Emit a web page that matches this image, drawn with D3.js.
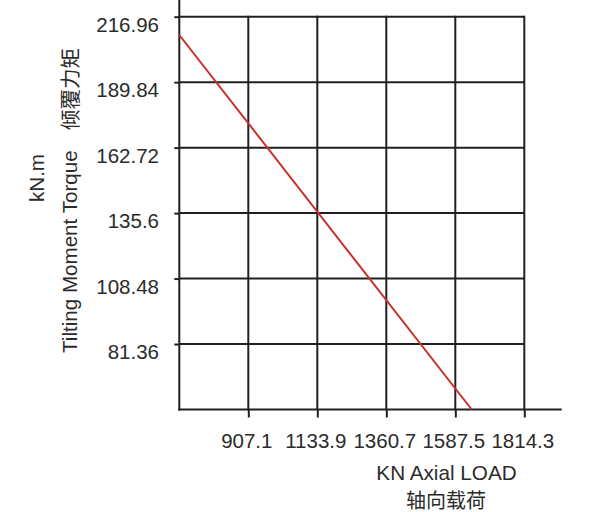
<!DOCTYPE html>
<html>
<head>
<meta charset="utf-8">
<script src="https://cdn.jsdelivr.net/npm/d3@7/dist/d3.min.js"></script>
<style>
  html, body { margin: 0; padding: 0; background: #fff; }
  svg { display: block; }
  text { font-family: "Liberation Sans", Arial, "Noto Sans CJK SC", sans-serif; fill: #2b2b2b; }
  .cjk { font-family: "Noto Sans CJK SC", "Liberation Sans", sans-serif; }
</style>
</head>
<body>
<svg id="chart" width="590" height="512"></svg>
<script>
// ---- data ----
const xTicks = [907.1, 1133.9, 1360.7, 1587.5, 1814.3];
const yTicks = [216.96, 189.84, 162.72, 135.6, 108.48, 81.36];
const lineLoad = [680.3, 1641.4];
const lineTorque = [209.38, 54.24];
const xTitle = "KN Axial LOAD";
const xTitleCn = "轴向载荷";
const yTitle = "Tilting Moment Torque";
const yTitleCn = "倾覆力矩";
const yUnit = "kN.m";

// ---- layout ----
const svg = d3.select("#chart");
const x = d3.scaleLinear().domain([680.3, 1814.3]).range([179.3, 524.3]);
const y = d3.scaleLinear().domain([54.24, 216.96]).range([409.5, 16.7]);
const ink = "#231f20";
const fs = 20.5;

// horizontal grid lines
svg.append("g").selectAll("line").data(yTicks).join("line")
  .attr("x1", x(680.3)).attr("x2", x(1814.3))
  .attr("y1", d => y(d)).attr("y2", d => y(d))
  .attr("stroke", ink).attr("stroke-width", 2);

// vertical grid lines
svg.append("g").selectAll("line").data(xTicks).join("line")
  .attr("x1", d => x(d)).attr("x2", d => x(d))
  .attr("y1", y(216.96) - 1).attr("y2", y(54.24))
  .attr("stroke", ink).attr("stroke-width", 2);

// x axis
const xAxis = svg.append("g")
  .attr("transform", `translate(0,${y(54.24)})`)
  .call(d3.axisBottom(x).tickValues(xTicks).tickSize(8).tickPadding(16).tickFormat(d => String(d)));
xAxis.select(".domain").remove();
xAxis.selectAll(".tick line").attr("stroke", ink).attr("stroke-width", 2);
xAxis.selectAll(".tick text").attr("font-size", fs).attr("font-family", "Liberation Sans, Arial, sans-serif")
  .attr("fill", "#2b2b2b").attr("dx", -2);
svg.append("line")
  .attr("x1", x(680.3) - 1).attr("x2", 561.7)
  .attr("y1", y(54.24)).attr("y2", y(54.24))
  .attr("stroke", ink).attr("stroke-width", 2);

// y axis
const yAxis = svg.append("g")
  .attr("transform", `translate(${x(680.3)},0)`)
  .call(d3.axisLeft(y).tickValues(yTicks).tickSize(5).tickPadding(15.3).tickFormat(d => String(d)));
yAxis.select(".domain").remove();
yAxis.selectAll(".tick line").attr("stroke", ink).attr("stroke-width", 2);
yAxis.selectAll(".tick text").attr("font-size", fs).attr("font-family", "Liberation Sans, Arial, sans-serif")
  .attr("fill", "#2b2b2b").attr("dy", "0.72em");
svg.append("line")
  .attr("x1", x(680.3)).attr("x2", x(680.3))
  .attr("y1", 0).attr("y2", y(54.24) + 1)
  .attr("stroke", ink).attr("stroke-width", 2);

// red line
const pts = lineLoad.map((v, i) => [v, lineTorque[i]]);
svg.append("path")
  .datum(pts)
  .attr("d", d3.line().x(d => x(d[0])).y(d => y(d[1])))
  .attr("fill", "none").attr("stroke", "#c9302c").attr("stroke-width", 2);

// x title
svg.append("text").attr("x", 446.5).attr("y", 479.5).attr("text-anchor", "middle")
  .attr("font-size", 20.7).text(xTitle);
svg.append("text").attr("class", "cjk").attr("x", 446).attr("y", 507.5).attr("text-anchor", "middle")
  .attr("font-size", 20).text(xTitleCn);

// y titles (rotated)
svg.append("text").attr("transform", "translate(76.7,353) rotate(-90)")
  .attr("text-anchor", "start").attr("font-size", 20.6).text(yTitle);
svg.append("text").attr("class", "cjk").attr("transform", "translate(77.5,48) rotate(-90)")
  .attr("text-anchor", "end").attr("font-size", 20.5).text(yTitleCn);
svg.append("text").attr("transform", "translate(44,178) rotate(-90)")
  .attr("text-anchor", "middle").attr("font-size", 20.5).text(yUnit);
</script>
</body>
</html>
